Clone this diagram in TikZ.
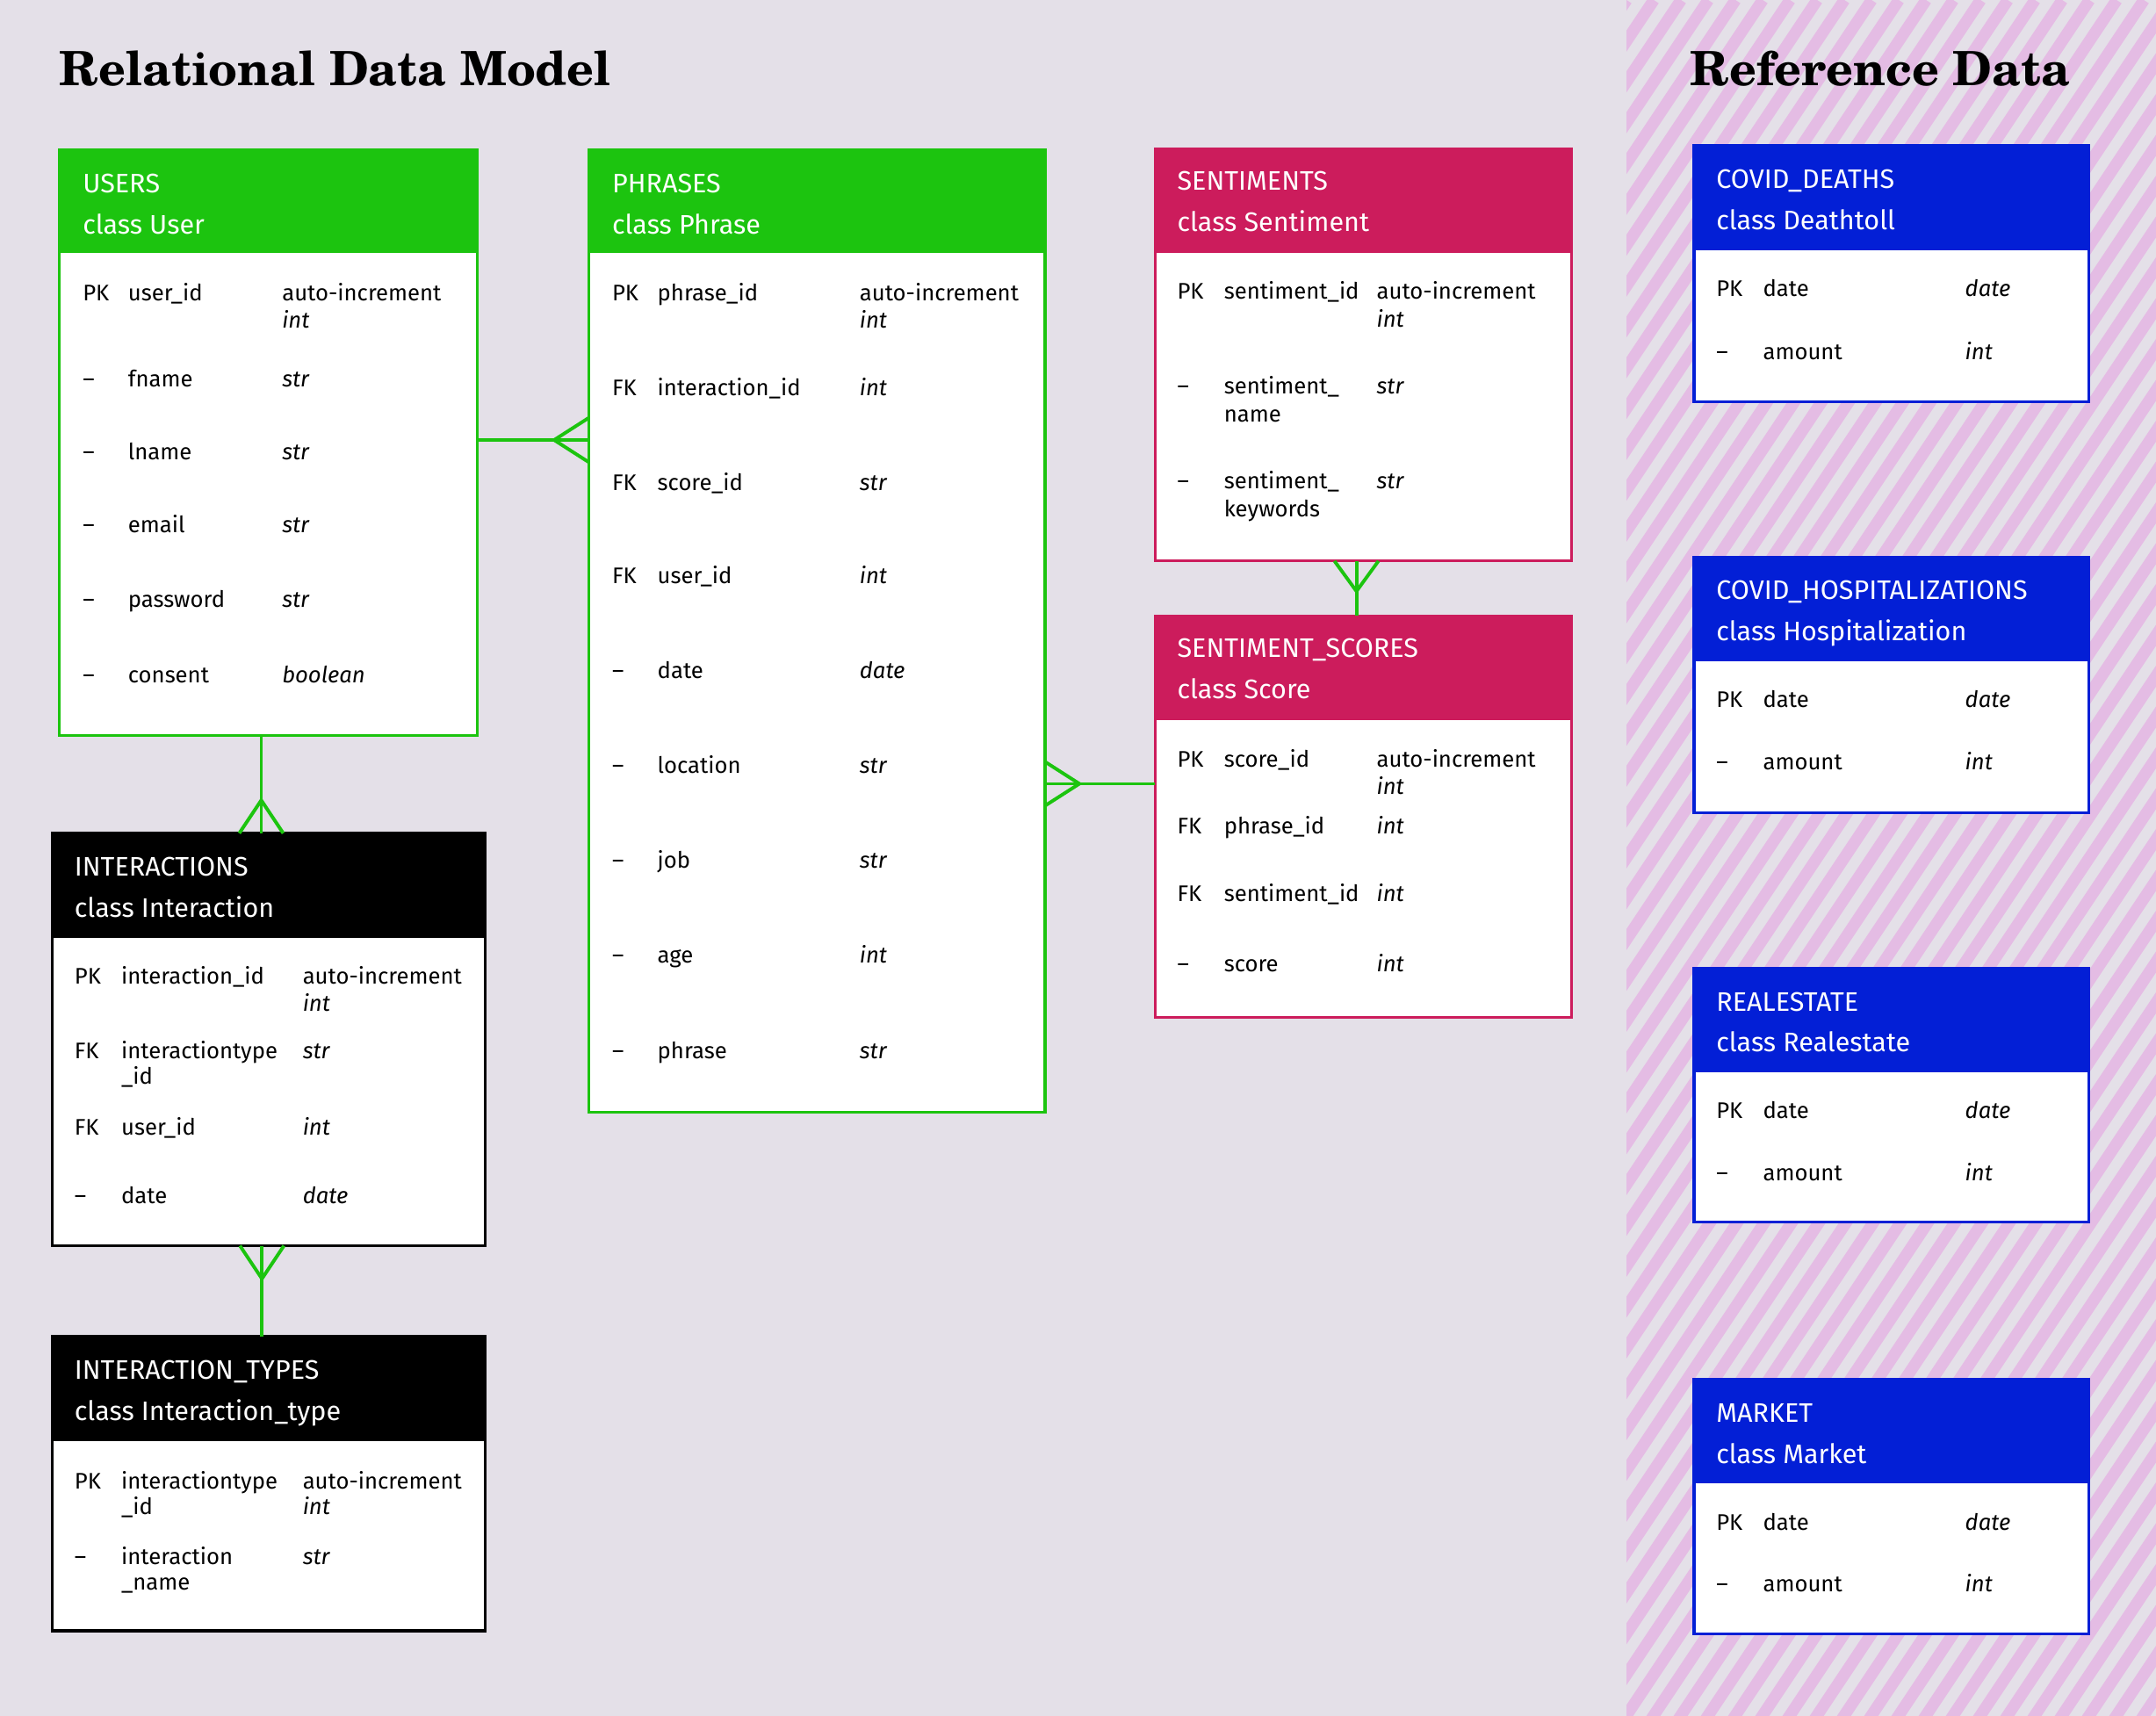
\documentclass[tikz,border=0pt]{standalone}
\usepackage{fontspec}
\setmainfont{Fira Sans}
\newfontfamily\titlefont{texgyreschola-bold.otf}
\usetikzlibrary{calc}
\definecolor{bgc}{RGB}{228,224,232}
\definecolor{stripec}{RGB}{228,188,228}
\definecolor{grn}{RGB}{28,196,15}
\definecolor{crim}{RGB}{204,28,92}
\definecolor{blu}{RGB}{3,31,214}
\newcommand\bodyfont{\fontsize{16.4}{20}\selectfont}
\newcommand\hdrfont{\fontsize{19.5}{23}\selectfont}
\newcommand\colset[3]{\def\ck{#1}\def\cn{#2}\def\ct{#3}}
\newcommand\frow[5]{%
 \node[cell] (#1k) at (\ck,#2) {#3};
 \node[cell] (#1n) at (\cn,#2) {#4};
 \node[cell,typecell] (#1t) at (\ct,#2) {#5};}
\newcommand\hdrtext[5]{%
 \node[htxt] (#1a) at (#2,#3) {#4};
 \node[htxt] (#1b) at (#2,#3+30) {#5};}
\tikzset{
 cell/.style={anchor=mid west, inner sep=0pt, font=\bodyfont, text=black, yshift=-4pt},
 typecell/.style={font=\bodyfont\itshape},
 htxt/.style={anchor=mid west, inner sep=0pt, font=\hdrfont, text=white, yshift=-4.5pt},
 tbl/.style={draw=#1, fill=white, line width=2pt, inner sep=0pt, outer sep=0pt, anchor=north west},
 hdr/.style={draw=#1, fill=#1, line width=2pt, inner sep=0pt, outer sep=0pt, anchor=north west},
 conn/.style={draw=grn, line width=2.5pt},
 ttl/.style={anchor=base west, inner sep=0pt, font=\titlefont\fontsize{34.4}{40}\selectfont, text=black},
}
\begin{document}
\begin{tikzpicture}[x=1pt,y=-1pt]
\useasboundingbox (0,0) rectangle (1568,1248);
\fill[bgc] (0,0) rectangle (1568,1248);
\begin{scope}
 \clip (1183,0) rectangle (1568,1248);
 \foreach \i in {0,...,64} { \draw[stripec, line width=8.5pt] ({343+19.8*\i},1260) -- ++(840,-1260); }
\end{scope}

% titles
\node[ttl] (t1) at (43,62) {Relational Data Model};
\node[ttl] (t2) at (1229,62) {Reference Data};

% USERS
\node[tbl=grn, minimum width=304pt, minimum height=426pt] (users) at (43,109) {};
\node[hdr=grn, minimum width=304pt, minimum height=74pt] (usersH) at (users.north west) {};
\colset{60}{93}{205}
\hdrtext{uh}{60}{133}{USERS}{class User}
\frow{u1}{212}{PK}{user\_id}{\upshape auto-increment}
\node[cell,typecell] (u1t2) at (\ct,232) {int};
\frow{u2}{275}{–}{fname}{str}
\frow{u3}{328}{–}{lname}{str}
\frow{u4}{381}{–}{email}{str}
\frow{u5}{435}{–}{password}{str}
\frow{u6}{490}{–}{consent}{boolean}

% PHRASES
\node[tbl=grn, minimum width=332pt, minimum height=700pt] (phrases) at (428,109) {};
\node[hdr=grn, minimum width=332pt, minimum height=74pt] (phrasesH) at (phrases.north west) {};
\colset{445}{478}{625}
\hdrtext{ph}{445}{133}{PHRASES}{class Phrase}
\frow{p1}{212}{PK}{phrase\_id}{\upshape auto-increment}
\node[cell,typecell] (p1t2) at (\ct,232) {int};
\frow{p2}{281}{FK}{interaction\_id}{int}
\frow{p3}{350}{FK}{score\_id}{str}
\frow{p4}{418}{FK}{user\_id}{int}
\frow{p5}{487}{–}{date}{date}
\frow{p6}{556}{–}{location}{str}
\frow{p7}{625}{–}{job}{str}
\frow{p8}{694}{–}{age}{int}
\frow{p9}{763}{–}{phrase}{str}

% SENTIMENTS
\node[tbl=crim, minimum width=303pt, minimum height=300pt] (sentiments) at (840,108) {};
\node[hdr=crim, minimum width=303pt, minimum height=75pt] (sentimentsH) at (sentiments.north west) {};
\colset{856}{890}{1001}
\hdrtext{sh}{856}{131}{SENTIMENTS}{class Sentiment}
\frow{s1}{211}{PK}{sentiment\_id}{\upshape auto-increment}
\node[cell,typecell] (s1t2) at (\ct,231) {int};
\frow{s2}{280}{–}{sentiment\_}{str}
\node[cell] (s2n2) at (\cn,300) {name};
\frow{s3}{349}{–}{sentiment\_}{str}
\node[cell] (s3n2) at (\cn,369) {keywords};

% SENTIMENT_SCORES
\node[tbl=crim, minimum width=303pt, minimum height=292pt] (scores) at (840,448) {};
\node[hdr=crim, minimum width=303pt, minimum height=75pt] (scoresH) at (scores.north west) {};
\hdrtext{sch}{856}{471}{SENTIMENT\_SCORES}{class Score}
\frow{c1}{551}{PK}{score\_id}{\upshape auto-increment}
\node[cell,typecell] (c1t2) at (\ct,571) {int};
\frow{c2}{600}{FK}{phrase\_id}{int}
\frow{c3}{649}{FK}{sentiment\_id}{int}
\frow{c4}{700}{–}{score}{int}

% INTERACTIONS
\node[tbl=black, minimum width=315pt, minimum height=300pt] (interactions) at (38,606) {};
\node[hdr=black, minimum width=315pt, minimum height=75pt] (interactionsH) at (interactions.north west) {};
\colset{54}{88}{220}
\hdrtext{ih}{54}{630}{INTERACTIONS}{class Interaction}
\frow{i1}{709}{PK}{interaction\_id}{\upshape auto-increment}
\node[cell,typecell] (i1t2) at (\ct,729) {int};
\frow{i2}{763}{FK}{interactiontype}{str}
\node[cell] (i2n2) at (\cn,782) {\_id};
\frow{i3}{819}{FK}{user\_id}{int}
\frow{i4}{869}{–}{date}{date}

% INTERACTION_TYPES
\node[tbl=black, minimum width=315pt, minimum height=214pt] (itypes) at (38,972) {};
\node[hdr=black, minimum width=315pt, minimum height=75pt] (itypesH) at (itypes.north west) {};
\hdrtext{ith}{54}{996}{INTERACTION\_TYPES}{class Interaction\_type}
\frow{y1}{1076}{PK}{interactiontype}{\upshape auto-increment}
\node[cell] (y1n2) at (\cn,1095) {\_id};
\node[cell,typecell] (y1t2) at (\ct,1095) {int};
\frow{y2}{1131}{–}{interaction}{str}
\node[cell] (y2n2) at (\cn,1150) {\_name};

% Reference data tables
\colset{1248}{1282}{1429}
\node[tbl=blu, minimum width=287pt, minimum height=186pt] (deaths) at (1232,106) {};
\node[hdr=blu, minimum width=287pt, minimum height=75pt] (deathsH) at (deaths.north west) {};
\hdrtext{dh}{1248}{130}{COVID\_DEATHS}{class Deathtoll}
\frow{d1}{209}{PK}{date}{date}
\frow{d2}{255}{–}{amount}{int}

\node[tbl=blu, minimum width=287pt, minimum height=186pt] (hosp) at (1232,405) {};
\node[hdr=blu, minimum width=287pt, minimum height=75pt] (hospH) at (hosp.north west) {};
\hdrtext{hh}{1248}{429}{COVID\_HOSPITALIZATIONS}{class Hospitalization}
\frow{h1}{508}{PK}{date}{date}
\frow{h2}{553}{–}{amount}{int}

\node[tbl=blu, minimum width=287pt, minimum height=185pt] (realestate) at (1232,704) {};
\node[hdr=blu, minimum width=287pt, minimum height=75pt] (realestateH) at (realestate.north west) {};
\hdrtext{rh}{1248}{728}{REALESTATE}{class Realestate}
\frow{r1}{807}{PK}{date}{date}
\frow{r2}{852}{–}{amount}{int}

\node[tbl=blu, minimum width=287pt, minimum height=185pt] (market) at (1232,1003) {};
\node[hdr=blu, minimum width=287pt, minimum height=75pt] (marketH) at (market.north west) {};
\hdrtext{mh}{1248}{1027}{MARKET}{class Market}
\frow{m1}{1106}{PK}{date}{date}
\frow{m2}{1151}{–}{amount}{int}

% connectors
\coordinate (e1) at ([yshift=2pt]users.east);
\coordinate (f1) at (e1 -| phrases.west);
\draw[conn] (e1) -- (f1);
\draw[conn] ($(f1)+(0,-16)$) -- ($(f1)+(-25,0)$) -- ($(f1)+(0,16)$);

\coordinate (e2) at ([xshift=-5pt]users.south);
\coordinate (f2) at (e2 |- interactions.north);
\draw[conn] (e2) -- (f2);
\draw[conn] ($(f2)+(-16,0)$) -- ($(f2)+(0,-24)$) -- ($(f2)+(16,0)$);

\coordinate (e3) at ([xshift=-5pt]interactions.south);
\coordinate (f3) at (e3 |- itypes.north);
\draw[conn] (e3) -- (f3);
\draw[conn] ($(e3)+(-16,0)$) -- ($(e3)+(0,24)$) -- ($(e3)+(16,0)$);

\coordinate (e4) at ([xshift=-5pt]sentiments.south);
\coordinate (f4) at (e4 |- scores.north);
\draw[conn] (e4) -- (f4);
\draw[conn] ($(e4)+(-16,0)$) -- ($(e4)+(0,22)$) -- ($(e4)+(16,0)$);

\coordinate (e5) at ([yshift=24pt]scores.west);
\coordinate (f5) at (e5 -| phrases.east);
\draw[conn] (e5) -- (f5);
\draw[conn] ($(f5)+(0,-16)$) -- ($(f5)+(25,0)$) -- ($(f5)+(0,16)$);
\end{tikzpicture}
\end{document}
